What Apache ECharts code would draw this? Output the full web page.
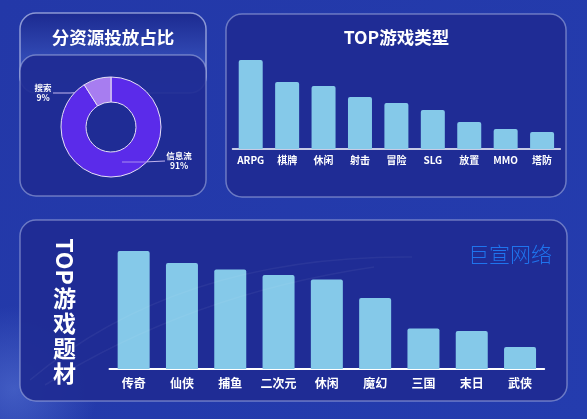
<!DOCTYPE html>
<html>
<head>
<meta charset="utf-8">
<title>TOP游戏</title>
<script src="https://cdn.jsdelivr.net/npm/echarts@6/dist/echarts.min.js"></script>
<style>
html,body{margin:0;padding:0;background:#2339a9;}
#chart{width:587px;height:419px;}
</style>
</head>
<body>
<div id="chart"></div>
<script>
// 分资源投放占比
const sourceNames = ['信息流', '搜索'];
const sourceValues = [91, 9];
const sourceColors = ['#5b2bea', '#a77df0'];
// TOP游戏类型
const typeNames = ['ARPG', '棋牌', '休闲', '射击', '冒险', 'SLG', '放置', 'MMO', '塔防'];
const typeValues = [89, 67, 63, 52, 46, 39, 27, 20, 17];
// TOP游戏题材
const themeNames = ['传奇', '仙侠', '捕鱼', '二次元', '休闲', '魔幻', '三国', '末日', '武侠'];
const themeValues = [118, 106, 99.5, 94, 89.5, 71, 40.5, 38, 22];

const font = '"Noto Sans CJK SC", "Noto Sans", sans-serif';
const panelFill = 'rgba(31,44,148,0.94)';
const panelLine = 'rgba(170,180,225,0.55)';
const barColor = '#85c9e9';

function panel(x, y, width, height) {
    return {
        type: 'rect', z: -5,
        shape: {x: x, y: y, width: width, height: height, r: 16},
        style: {fill: panelFill, stroke: panelLine, lineWidth: 1.5}
    };
}

function streak(x1, y1, cx, cy, x2, y2, alpha) {
    return {
        type: 'bezierCurve', z: 20, silent: true,
        shape: {x1: x1, y1: y1, cpx1: cx, cpy1: cy, x2: x2, y2: y2},
        style: {fill: 'none', stroke: 'rgba(255,255,255,' + alpha + ')', lineWidth: 1.5}
    };
}

const myChart = echarts.init(document.getElementById('chart'));

myChart.setOption({
    backgroundColor: new echarts.graphic.LinearGradient(0, 0, 1, 1, [
        {offset: 0, color: '#2338a8'},
        {offset: 1, color: '#243cae'}
    ]),
    animation: false,
    textStyle: {fontFamily: font},
    title: [
        {
            text: '分资源投放占比', left: 108, top: 24, textAlign: 'center',
            textStyle: {color: '#fff', fontSize: 17.5, fontWeight: 'bold', fontFamily: font}
        },
        {
            text: 'TOP游戏类型', left: 391.5, top: 24, textAlign: 'center',
            textStyle: {color: '#fff', fontSize: 17.5, fontWeight: 'bold', fontFamily: font}
        }
    ],
    graphic: [
        // 左下角的背景光
        {
            type: 'rect', z: -8,
            shape: {x: 0, y: 300, width: 140, height: 119},
            style: {fill: new echarts.graphic.RadialGradient(0.1, 0.75, 0.7, [
                {offset: 0, color: 'rgba(90,120,215,0.55)'},
                {offset: 1, color: 'rgba(90,120,215,0)'}
            ])}
        },
        {
            type: 'rect', z: -6,
            shape: {x: 20, y: 13, width: 186, height: 80, r: 16},
            style: {
                fill: new echarts.graphic.LinearGradient(0, 0, 0, 1, [
                    {offset: 0, color: '#1c2a90'},
                    {offset: 0.55, color: '#3149b4'},
                    {offset: 1, color: '#3f5ac4'}
                ]),
                stroke: 'rgba(185,195,235,0.7)', lineWidth: 1.5
            }
        },
        panel(20, 55, 186, 141),
        panel(226, 14, 340, 183),
        panel(20, 220, 547, 181),
        // 引导线在扇区内的部分
        {
            type: 'line', z: 10, silent: true,
            shape: {x1: 122, y1: 162, x2: 147, y2: 162},
            style: {stroke: '#a98df0', lineWidth: 1}
        },
        // 竖排标题
        {
            type: 'text', z: 5, x: 64.5, y: 261.5, rotation: -Math.PI / 2,
            style: {
                text: 'TOP', fill: '#fff', font: 'bold 23px ' + font,
                align: 'center', verticalAlign: 'middle'
            }
        },
        {
            type: 'text', z: 5, x: 64.5, y: 336,
            style: {
                text: '游\n戏\n题\n材', fill: '#fff', font: 'bold 23px ' + font,
                lineHeight: 25, align: 'center', verticalAlign: 'middle'
            }
        },
        {
            type: 'text', z: 5, x: 510, y: 254,
            style: {
                text: '巨宣网络', fill: '#1f74ee', font: '200 21px ' + font,
                align: 'center', verticalAlign: 'middle'
            }
        },
        streak(30, 380, 179, 255, 412, 257, 0.05),
        streak(45, 385, 190, 294, 374, 267, 0.05)
    ],
    grid: [
        {left: 232.5, width: 327.8, top: 49, height: 100},
        {left: 109.5, width: 434.7, top: 239, height: 130}
    ],
    xAxis: [
        {
            type: 'category', gridIndex: 0, data: typeNames,
            axisTick: {show: false},
            axisLine: {lineStyle: {color: '#fff', width: 1.5}},
            axisLabel: {color: '#fff', fontSize: 10, fontWeight: 'bold', margin: 6, interval: 0, fontFamily: font}
        },
        {
            type: 'category', gridIndex: 1, data: themeNames,
            axisTick: {show: false},
            axisLine: {lineStyle: {color: '#fff', width: 2}},
            axisLabel: {color: '#fff', fontSize: 12, fontWeight: 'bold', margin: 8, interval: 0, fontFamily: font}
        }
    ],
    yAxis: [
        {type: 'value', gridIndex: 0, min: 0, max: 100, show: false},
        {type: 'value', gridIndex: 1, min: 0, max: 130, show: false}
    ],
    series: [
        {
            type: 'pie',
            center: [111, 127],
            radius: [25, 50],
            startAngle: 90,
            data: sourceNames.map((name, i) => ({
                name: name, value: sourceValues[i],
                itemStyle: {color: sourceColors[i]}
            })),
            itemStyle: {borderColor: '#e6e0f5', borderWidth: 1},
            label: {
                color: '#fff', fontSize: 8.5, fontWeight: 'bold', lineHeight: 10,
                fontFamily: font, formatter: '{b}\n{d}%'
            },
            labelLine: {show: true, lineStyle: {color: '#bfb2ee', width: 1}},
            labelLayout: function (params) {
                if (params.dataIndex === 0) {
                    return {
                        x: 179, y: 161, align: 'center', verticalAlign: 'middle',
                        labelLinePoints: [[122, 162], [144, 162], [165, 161]]
                    };
                }
                return {
                    x: 43, y: 93, align: 'center', verticalAlign: 'middle',
                    labelLinePoints: [[53, 93], [70, 93], [85, 92]]
                };
            }
        },
        {
            type: 'bar', xAxisIndex: 0, yAxisIndex: 0, data: typeValues,
            barWidth: 24,
            itemStyle: {color: barColor, borderRadius: [2, 2, 0, 0]}
        },
        {
            type: 'bar', xAxisIndex: 1, yAxisIndex: 1, data: themeValues,
            barWidth: 32,
            itemStyle: {color: barColor, borderRadius: [2, 2, 0, 0]}
        }
    ]
});
</script>
</body>
</html>
